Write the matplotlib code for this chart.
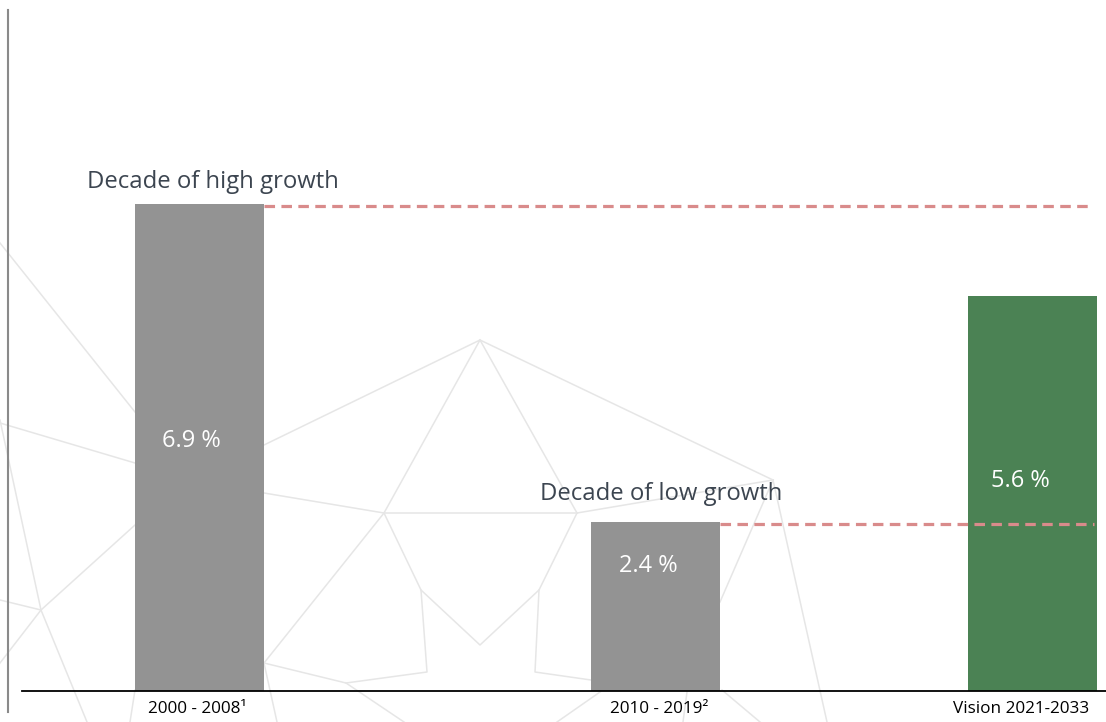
import matplotlib
matplotlib.use("Agg")
import matplotlib.pyplot as plt
from matplotlib.lines import Line2D

plt.rcParams['font.family'] = ['Open Sans', 'DejaVu Sans']

# データ
categories = ["2000 - 2008¹", "2010 - 2019²", "Vision 2021-2033"]
growth = [6.9, 2.4, 5.6]
value_labels = ["6.9 %", "2.4 %", "5.6 %"]
notes = ["Decade of high growth", "Decade of low growth"]

# 見た目
W, H = 1106, 722
bar_x = [199.5, 655.5, 1032]
bar_w = 129
tick_x = [197, 659, 1021]
bar_colors = ["#939393", "#939393", "#4b8254"]
label_frac = [0.50, 0.30, 0.485]    # 上端からの割合
label_dx = [-8, -7, -12]
px_per_unit = 70.6
base_px = 691
text_color = "#3c4550"
dash_color = "#d98b8b"

# 背景の薄い線（装飾, 画像のピクセル座標）
deco = [
    [(0, 243), (135, 412)],
    [(0, 423), (135, 463)],
    [(0, 420), (41, 610), (87, 722)],
    [(0, 600), (41, 610), (135, 525)],
    [(41, 610), (0, 663)],
    [(264, 445), (480, 340), (384, 513)],
    [(480, 340), (773, 480)],
    [(264, 493), (384, 513), (577, 513), (773, 480)],
    [(384, 513), (421, 590), (427, 672), (346, 683), (264, 663)],
    [(421, 590), (480, 645), (539, 590), (577, 513)],
    [(539, 590), (535, 672), (591, 680)],
    [(384, 513), (264, 663)],
    [(346, 683), (404, 722)],
    [(264, 663), (277, 722)],
    [(480, 340), (577, 513)],
    [(773, 480), (720, 602)],
    [(773, 480), (827, 722)],
    [(600, 692), (557, 722)],
    [(687, 692), (683, 722)],
    [(722, 690), (760, 722)],
    [(135, 690), (130, 722)],
]

fig = plt.figure(figsize=(W / 100, H / 100), dpi=100)
fig.patch.set_facecolor("white")

for pts in deco:
    xs = [p[0] / W for p in pts]
    ys = [1 - p[1] / H for p in pts]
    fig.add_artist(Line2D(xs, ys, color="#e6e6e6", lw=1.1, zorder=-5,
                          transform=fig.transFigure))

# 左の縦線
fig.add_artist(Line2D([8 / W, 8 / W], [1 - 10 / H, 1 - 712 / H],
                      color="#8a8a8a", lw=1.5, transform=fig.transFigure))

ax = fig.add_axes([22 / W, (H - base_px) / H, 1 - 22 / W, base_px / H])
ax.patch.set_alpha(0)
ax.set_xlim(22, W)
ax.set_ylim(0, base_px / px_per_unit)

ax.bar(bar_x, growth, width=bar_w, color=bar_colors, zorder=2)

# 破線
ends = [1092, 1094]
for i in range(2):
    ax.plot([bar_x[i] + bar_w / 2, ends[i]], [growth[i] - 0.03] * 2,
            color=dash_color, lw=2.3, dashes=(3.3, 2), zorder=3)

# バー内の数値
for i, v in enumerate(growth):
    ax.text(bar_x[i] + label_dx[i], v * (1 - label_frac[i]), value_labels[i],
            color="white", fontsize=17, ha="center", va="baseline", zorder=4)

# 注記
offsets = [(-48, 16), (-51, 22)]
for i, t in enumerate(notes):
    ax.annotate(t, xy=(bar_x[i] - bar_w / 2, growth[i]), xytext=offsets[i],
                textcoords="offset pixels", color=text_color, fontsize=17.2,
                ha="left", va="baseline")

ax.set_xticks(tick_x)
ax.set_xticklabels(categories, fontsize=12.3, color="black")
ax.tick_params(axis="x", length=0, pad=7.5)
ax.set_yticks([])
for s in ["top", "right", "left"]:
    ax.spines[s].set_visible(False)
ax.spines["bottom"].set_color("black")
ax.spines["bottom"].set_linewidth(1.3)

fig.savefig("out.png", dpi=100)
